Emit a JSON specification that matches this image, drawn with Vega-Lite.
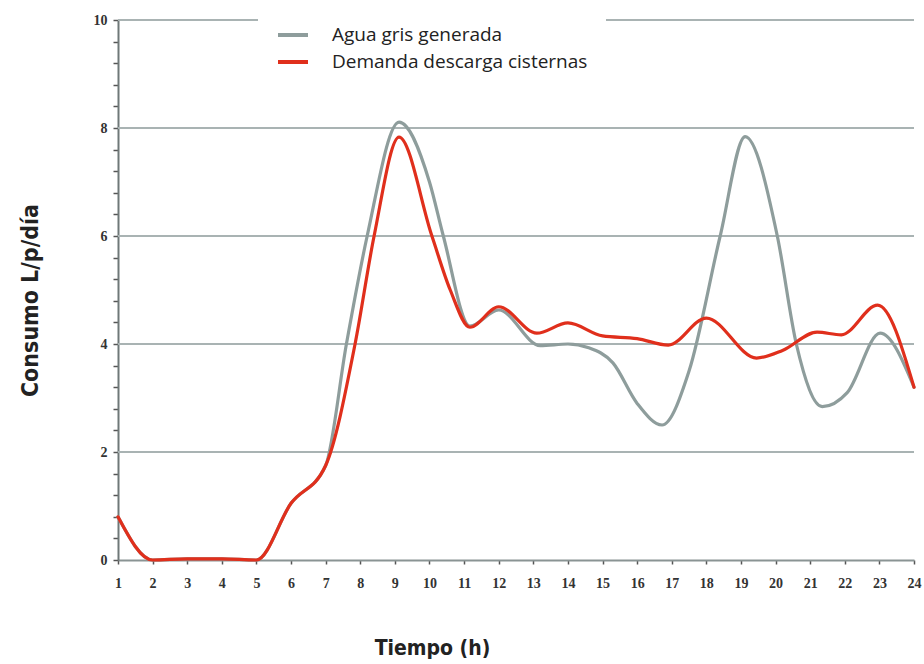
{
  "$schema": "https://vega.github.io/schema/vega-lite/v6.json",
  "autosize": "none",
  "width": 796,
  "height": 540,
  "padding": {"left": 118, "top": 20, "right": 10, "bottom": 104},
  "background": "white",
  "config": {"view": {"stroke": null}, "axis": {"labelOverlap": false, "labelBound": false, "labelFlush": false}},
  "datasets": {
    "grid": [{"y": 2}, {"y": 4}, {"y": 6}, {"y": 8}, {"y": 10}],
    "series": [
      {"hora": 1, "valor": 0.8, "serie": "Agua gris generada"},
      {"hora": 2, "valor": 0.0, "serie": "Agua gris generada"},
      {"hora": 3, "valor": 0.02, "serie": "Agua gris generada"},
      {"hora": 4, "valor": 0.02, "serie": "Agua gris generada"},
      {"hora": 5, "valor": 0.0, "serie": "Agua gris generada"},
      {"hora": 6, "valor": 1.05, "serie": "Agua gris generada"},
      {"hora": 7, "valor": 1.75, "serie": "Agua gris generada"},
      {"hora": 7.6, "valor": 4.0, "serie": "Agua gris generada"},
      {"hora": 8.2, "valor": 6.0, "serie": "Agua gris generada"},
      {"hora": 9.12, "valor": 8.11, "serie": "Agua gris generada"},
      {"hora": 10, "valor": 7.0, "serie": "Agua gris generada"},
      {"hora": 10.4, "valor": 6.0, "serie": "Agua gris generada"},
      {"hora": 11.17, "valor": 4.33, "serie": "Agua gris generada"},
      {"hora": 12, "valor": 4.63, "serie": "Agua gris generada"},
      {"hora": 13.2, "valor": 3.97, "serie": "Agua gris generada"},
      {"hora": 14, "valor": 4.0, "serie": "Agua gris generada"},
      {"hora": 14.6, "valor": 3.93, "serie": "Agua gris generada"},
      {"hora": 15.3, "valor": 3.65, "serie": "Agua gris generada"},
      {"hora": 16, "valor": 2.9, "serie": "Agua gris generada"},
      {"hora": 16.72, "valor": 2.5, "serie": "Agua gris generada"},
      {"hora": 17.5, "valor": 3.5, "serie": "Agua gris generada"},
      {"hora": 18.4, "valor": 6.0, "serie": "Agua gris generada"},
      {"hora": 19.12, "valor": 7.84, "serie": "Agua gris generada"},
      {"hora": 20.05, "valor": 6.0, "serie": "Agua gris generada"},
      {"hora": 20.6, "valor": 4.0, "serie": "Agua gris generada"},
      {"hora": 21.35, "valor": 2.84, "serie": "Agua gris generada"},
      {"hora": 22.07, "valor": 3.1, "serie": "Agua gris generada"},
      {"hora": 23.02, "valor": 4.2, "serie": "Agua gris generada"},
      {"hora": 24, "valor": 3.2, "serie": "Agua gris generada"},
      {"hora": 1, "valor": 0.8, "serie": "Demanda descarga cisternas"},
      {"hora": 2, "valor": 0.0, "serie": "Demanda descarga cisternas"},
      {"hora": 3, "valor": 0.02, "serie": "Demanda descarga cisternas"},
      {"hora": 4, "valor": 0.02, "serie": "Demanda descarga cisternas"},
      {"hora": 5, "valor": 0.0, "serie": "Demanda descarga cisternas"},
      {"hora": 6, "valor": 1.05, "serie": "Demanda descarga cisternas"},
      {"hora": 7, "valor": 1.75, "serie": "Demanda descarga cisternas"},
      {"hora": 7.85, "valor": 4.0, "serie": "Demanda descarga cisternas"},
      {"hora": 8.4, "valor": 6.0, "serie": "Demanda descarga cisternas"},
      {"hora": 9.12, "valor": 7.83, "serie": "Demanda descarga cisternas"},
      {"hora": 10.07, "valor": 6.0, "serie": "Demanda descarga cisternas"},
      {"hora": 10.6, "valor": 5.0, "serie": "Demanda descarga cisternas"},
      {"hora": 11.17, "valor": 4.31, "serie": "Demanda descarga cisternas"},
      {"hora": 12, "valor": 4.69, "serie": "Demanda descarga cisternas"},
      {"hora": 13.1, "valor": 4.2, "serie": "Demanda descarga cisternas"},
      {"hora": 14, "valor": 4.39, "serie": "Demanda descarga cisternas"},
      {"hora": 15, "valor": 4.15, "serie": "Demanda descarga cisternas"},
      {"hora": 16, "valor": 4.1, "serie": "Demanda descarga cisternas"},
      {"hora": 16.9, "valor": 3.98, "serie": "Demanda descarga cisternas"},
      {"hora": 18, "valor": 4.48, "serie": "Demanda descarga cisternas"},
      {"hora": 19.45, "valor": 3.74, "serie": "Demanda descarga cisternas"},
      {"hora": 20.2, "valor": 3.88, "serie": "Demanda descarga cisternas"},
      {"hora": 21.2, "valor": 4.22, "serie": "Demanda descarga cisternas"},
      {"hora": 21.9, "valor": 4.17, "serie": "Demanda descarga cisternas"},
      {"hora": 22.95, "valor": 4.72, "serie": "Demanda descarga cisternas"},
      {"hora": 24, "valor": 3.2, "serie": "Demanda descarga cisternas"}
    ]
  },
  "layer": [
    {
      "data": {"name": "grid"},
      "mark": {"type": "rule", "color": "#a9b3b3", "strokeWidth": 2},
      "encoding": {
        "y": {"field": "y", "type": "quantitative", "scale": {"domain": [0, 10], "nice": false}}
      }
    },
    {
      "mark": {"type": "rule", "color": "#a9b3b3", "strokeWidth": 2},
      "encoding": {
        "x": {"datum": 24, "type": "quantitative", "scale": {"domain": [1, 24], "nice": false, "zero": false}},
        "y": {"datum": 0, "type": "quantitative"},
        "y2": {"datum": 10}
      }
    },
    {
      "data": {"name": "series"},
      "mark": {"type": "line", "interpolate": "monotone", "strokeWidth": 3.2, "strokeCap": "round", "strokeJoin": "round"},
      "encoding": {
        "x": {
          "field": "hora", "type": "quantitative",
          "scale": {"domain": [1, 24], "nice": false, "zero": false},
          "axis": {
            "values": [1,2,3,4,5,6,7,8,9,10,11,12,13,14,15,16,17,18,19,20,21,22,23,24],
            "tickCount": 100,
            "format": "d",
            "grid": false,
            "labelOverlap": false,
            "domainColor": "#8a9494", "domainWidth": 2,
            "tickColor": "#555", "tickSize": 4, "tickWidth": 1.5,
            "labelFont": "Liberation Serif", "labelFontWeight": "bold", "labelFontSize": 14, "labelColor": "#333",
            "labelPadding": 12,
            "title": "Tiempo (h)",
            "titleFont": "DejaVu Sans Condensed, Liberation Sans", "titleFontWeight": "bold", "titleFontSize": 21, "titleColor": "#222",
            "titleX": 314, "titleY": 88, "titleAnchor": "middle", "titleAlign": "center", "titleBaseline": "middle"
          }
        },
        "y": {
          "field": "valor", "type": "quantitative",
          "scale": {"domain": [0, 10], "nice": false},
          "axis": {
            "values": [0,0.4,0.8,1.2,1.6,2,2.4,2.8,3.2,3.6,4,4.4,4.8,5.2,5.6,6,6.4,6.8,7.2,7.6,8,8.4,8.8,9.2,9.6,10],
            "tickCount": 100,
            "labelExpr": "(datum.value === 0 || datum.value === 2 || datum.value === 4 || datum.value === 6 || datum.value === 8 || datum.value === 10) ? ('' + datum.value) : ''",
            "labelOverlap": false,
            "grid": false,
            "domainColor": "#6f7878", "domainWidth": 2,
            "tickColor": "#555", "tickSize": 5, "tickWidth": 1.5,
            "labelFont": "Liberation Serif", "labelFontWeight": "bold", "labelFontSize": 14, "labelColor": "#333",
            "labelPadding": 6,
            "title": "Consumo L/p/día",
            "titleFont": "DejaVu Sans Condensed, Liberation Sans", "titleFontWeight": "bold", "titleFontSize": 23, "titleColor": "#222",
            "titleX": -88, "titleY": 280, "titleAngle": -90, "titleAlign": "center", "titleBaseline": "middle"
          }
        },
        "color": {
          "field": "serie", "type": "nominal",
          "scale": {"domain": ["Agua gris generada", "Demanda descarga cisternas"], "range": ["#8e9d9c", "#e02f1c"]},
          "legend": {
            "title": null,
            "orient": "none",
            "legendX": 140, "legendY": -20,
            "fillColor": "white",
            "padding": 18,
            "symbolType": "stroke",
            "symbolSize": 900,
            "symbolStrokeWidth": 4,
            "labelFont": "Open Sans", "labelFontSize": 19, "labelColor": "#222",
            "labelOffset": 22,
            "rowPadding": -4,
            "labelLimit": 400
          }
        }
      }
    }
  ]
}
